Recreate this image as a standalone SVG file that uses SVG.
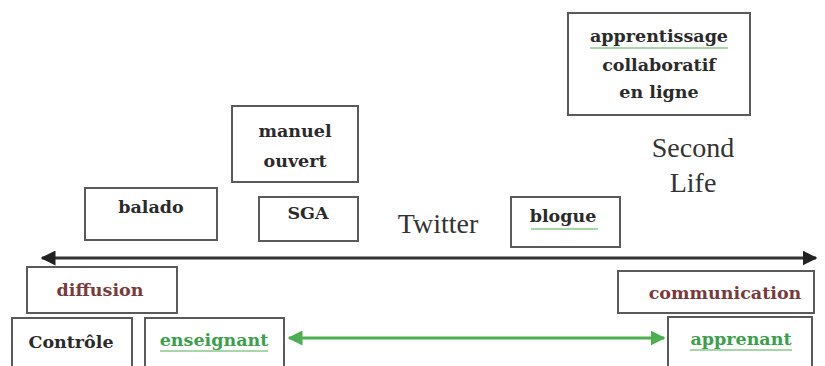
<svg xmlns="http://www.w3.org/2000/svg" width="825" height="366" viewBox="0 0 825 366">
<defs>
<style>
.box{fill:#fff;stroke:#5a5a5a;stroke-width:2}
.t{font-family:"DejaVu Serif","Liberation Serif",serif;font-weight:bold;font-size:17.5px;text-anchor:middle;fill:#2a2a2a}
.br{fill:#7a3a3a}
.gr{fill:#3aa04a}
.plain{font-family:"Liberation Serif","DejaVu Serif",serif;font-size:28px;text-anchor:middle;fill:#333}
.ul{stroke:#4caf50;stroke-width:1.2}
</style>
<marker id="ab" viewBox="0 0 10 10" refX="9" refY="5" markerWidth="5" markerHeight="5" orient="auto-start-reverse"><path d="M0,0 L10,5 L0,10 z" fill="#222"/></marker>
<marker id="ag" viewBox="0 0 10 10" refX="9" refY="5" markerWidth="5" markerHeight="5" orient="auto-start-reverse"><path d="M0,0 L10,5 L0,10 z" fill="#4caf50"/></marker>
</defs>
<rect width="825" height="366" fill="#fff"/>
<g id="connectors">
<line x1="42" y1="258" x2="816" y2="258" stroke="#333" stroke-width="3" marker-start="url(#ab)" marker-end="url(#ab)"/>
<line x1="289" y1="338" x2="664" y2="338" stroke="#4caf50" stroke-width="3" marker-start="url(#ag)" marker-end="url(#ag)"/>
</g>
<g id="apprentissage">
<rect class="box" x="568" y="13" width="182" height="102"/>
<text class="t" x="659" y="42">apprentissage</text>
<line class="ul" x1="590" y1="48" x2="728" y2="48"/>
<text class="t" x="659" y="71">collaboratif</text>
<text class="t" x="659" y="98">en ligne</text>
</g>
<g id="secondlife">
<text class="plain" x="693" y="157">Second</text>
<text class="plain" x="693" y="192">Life</text>
</g>
<g id="manuel">
<rect class="box" x="232" y="106" width="126" height="76"/>
<text class="t" x="295" y="137">manuel</text>
<text class="t" x="295" y="167">ouvert</text>
</g>
<g id="balado">
<rect class="box" x="85" y="188" width="132" height="52"/>
<text class="t" x="151" y="213">balado</text>
</g>
<g id="sga">
<rect class="box" x="259" y="197" width="99" height="44"/>
<text class="t" x="308" y="219">SGA</text>
</g>
<g id="twitter">
<text class="plain" x="438" y="233">Twitter</text>
</g>
<g id="blogue">
<rect class="box" x="511" y="197" width="109" height="50"/>
<text class="t" x="563" y="222">blogue</text>
<line class="ul" x1="531" y1="229" x2="598" y2="229"/>
</g>
<g id="diffusion">
<rect class="box" x="27" y="267" width="150" height="46"/>
<text class="t br" x="100" y="296">diffusion</text>
</g>
<g id="communication">
<rect class="box" x="618" y="271" width="196" height="42"/>
<text class="t br" x="725" y="299">communication</text>
</g>
<g id="controle">
<rect class="box" x="12" y="318" width="120" height="60"/>
<text class="t" x="71" y="348">Contrôle</text>
</g>
<g id="enseignant">
<rect class="box" x="145" y="318" width="139" height="60"/>
<text class="t gr" x="214" y="346">enseignant</text>
<line class="ul" x1="160" y1="351" x2="268" y2="351"/>
</g>
<g id="apprenant">
<rect class="box" x="668" y="317" width="144" height="60"/>
<text class="t gr" x="741" y="345">apprenant</text>
<line class="ul" x1="690" y1="350" x2="792" y2="350"/>
</g>
</svg>
